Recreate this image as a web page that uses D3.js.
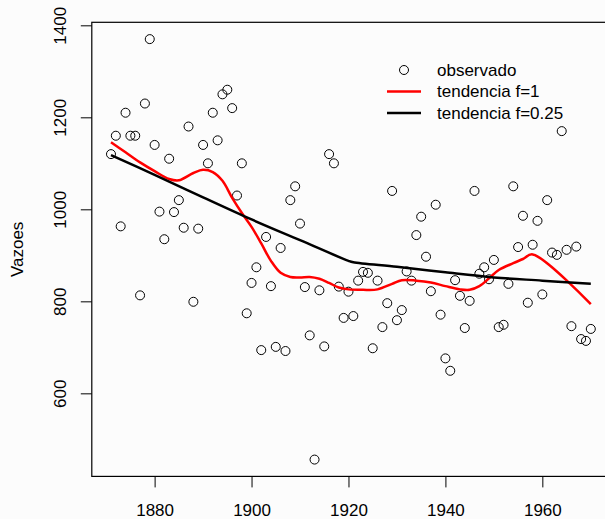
<!DOCTYPE html>
<html>
<head>
<meta charset="utf-8">
<script src="https://cdn.jsdelivr.net/npm/d3@7"></script>
<style>
  html, body { margin: 0; padding: 0; background: #fcfcfc; }
  svg { display: block; }
  text { font-family: "Liberation Sans", Arial, Helvetica, sans-serif; fill: #000; }
</style>
</head>
<body>
<svg id="chart" width="605" height="519"></svg>
<script>
// Annual flow of the Nile, 1871-1970
const years = d3.range(1871, 1971);
const vazoes = [
  1120, 1160, 963, 1210, 1160, 1160, 813, 1230, 1370, 1140,
  995, 935, 1110, 994, 1020, 960, 1180, 799, 958, 1140,
  1100, 1210, 1150, 1250, 1260, 1220, 1030, 1100, 774, 840,
  874, 694, 940, 833, 701, 916, 692, 1020, 1050, 969,
  831, 726, 456, 824, 702, 1120, 1100, 832, 764, 821,
  768, 845, 864, 862, 698, 845, 744, 796, 1040, 759,
  781, 865, 845, 944, 984, 897, 822, 1010, 771, 676,
  649, 846, 812, 742, 801, 1040, 860, 874, 848, 890,
  744, 749, 838, 1050, 918, 986, 797, 923, 975, 815,
  1020, 906, 901, 1170, 912, 746, 919, 718, 714, 740
];

// Trend curves (year, smoothed flow)
const tendF1Anos = [1871, 1874, 1877, 1880, 1883, 1885, 1888, 1890, 1892, 1894, 1896, 1898, 1900, 1902, 1904, 1906, 1908, 1910, 1912, 1914, 1916, 1918, 1920, 1923, 1926, 1929, 1931, 1934, 1937, 1940, 1943, 1945, 1947, 1949, 1951, 1954, 1956, 1958, 1970];
const tendF1Valores = [1146, 1124, 1102, 1083, 1066, 1063, 1079, 1086, 1081, 1062, 1025, 992, 962, 926, 888, 862, 853, 852, 853, 849, 840, 830, 826, 825, 826, 838, 846, 845, 841, 833, 826, 825, 833, 850, 868, 883, 892, 902, 794];

const tendF025Anos = [1871, 1880, 1890, 1900, 1910, 1920, 1921, 1930, 1940, 1950, 1960, 1970];
const tendF025Valores = [1118, 1075, 1026, 978, 933, 888, 885, 875, 863, 852, 845, 838];

const xTicks = [1880, 1900, 1920, 1940, 1960];
const yTicks = [600, 800, 1000, 1200, 1400];

const legendLabels = ["observado", "tendencia f=1", "tendencia f=0.25"];

const svg = d3.select("#chart");

const x = d3.scaleLinear().domain([1867.04, 1973.96]).range([91.8, 610]);
const y = d3.scaleLinear().domain([419.44, 1406.56]).range([476.4, 22.3]);

// plot box
svg.append("rect")
  .attr("x", x.range()[0]).attr("y", y.range()[1])
  .attr("width", x.range()[1] - x.range()[0])
  .attr("height", y.range()[0] - y.range()[1])
  .attr("fill", "none").attr("stroke", "#000").attr("stroke-width", 1.2);

// x axis
const xAxis = svg.append("g")
  .attr("transform", `translate(0,${y.range()[0]})`)
  .call(d3.axisBottom(x).tickValues(xTicks).tickFormat(d3.format("d")).tickSize(11).tickPadding(17));
xAxis.select(".domain").remove();
xAxis.selectAll("line").attr("stroke", "#000");
xAxis.selectAll("text").attr("font-size", 17).attr("font-family", "Liberation Sans, Arial, sans-serif");

// y axis with rotated labels
const yAxis = svg.append("g")
  .attr("transform", `translate(${x.range()[0]},0)`)
  .call(d3.axisLeft(y).tickValues(yTicks).tickFormat(d3.format("d")).tickSize(11));
yAxis.select(".domain").remove();
yAxis.selectAll("line").attr("stroke", "#000");
yAxis.selectAll("text")
  .attr("font-size", 17).attr("font-family", "Liberation Sans, Arial, sans-serif")
  .attr("x", null).attr("dy", null)
  .attr("text-anchor", "middle")
  .attr("transform", "translate(-25.5,0) rotate(-90)");

// y axis title
svg.append("text")
  .attr("transform", `translate(23,${(y.range()[0] + y.range()[1]) / 2}) rotate(-90)`)
  .attr("text-anchor", "middle")
  .attr("font-size", 17)
  .text("Vazoes");

// observations
svg.append("g").selectAll("circle")
  .data(years.map((a, i) => [a, vazoes[i]]))
  .join("circle")
  .attr("cx", d => x(d[0])).attr("cy", d => y(d[1]))
  .attr("r", 4.5)
  .attr("fill", "none").attr("stroke", "#000").attr("stroke-width", 1);

const line = d3.line()
  .x(d => x(d[0])).y(d => y(d[1]))
  .curve(d3.curveCatmullRom.alpha(0.5));

svg.append("path")
  .datum(tendF1Anos.map((a, i) => [a, tendF1Valores[i]]))
  .attr("d", line)
  .attr("fill", "none").attr("stroke", "#ff0000").attr("stroke-width", 2.5);

svg.append("path")
  .datum(tendF025Anos.map((a, i) => [a, tendF025Valores[i]]))
  .attr("d", line)
  .attr("fill", "none").attr("stroke", "#000").attr("stroke-width", 2.5);

// legend
const lg = svg.append("g").attr("transform", "translate(387,70)");
const step = 21.5;
lg.append("circle").attr("cx", 17).attr("cy", 0).attr("r", 4.5)
  .attr("fill", "none").attr("stroke", "#000").attr("stroke-width", 1);
lg.append("line").attr("x1", 0).attr("x2", 34).attr("y1", step).attr("y2", step)
  .attr("stroke", "#ff0000").attr("stroke-width", 2.5);
lg.append("line").attr("x1", 0).attr("x2", 34).attr("y1", 2 * step).attr("y2", 2 * step)
  .attr("stroke", "#000").attr("stroke-width", 2.5);
lg.selectAll("text.lab")
  .data(legendLabels)
  .join("text")
  .attr("class", "lab")
  .attr("x", 50).attr("y", (d, i) => i * step)
  .attr("dy", "0.35em")
  .attr("font-size", 17)
  .text(d => d);
</script>
</body>
</html>
